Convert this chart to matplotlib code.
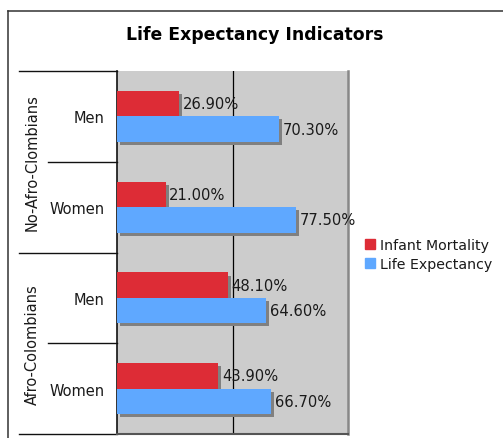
"""
Life expectancy indicators, grouped horizontal bars with a two-level category axis.
"""
import matplotlib.pyplot as plt
import matplotlib.patheffects as pe
from matplotlib.lines import Line2D
from matplotlib.patches import Patch
from matplotlib.transforms import blended_transform_factory

RED = "#DD2C36"
BLUE = "#5FA8FF"
PLOT_BG = "#CCCCCC"
SHADOW = "#808080"
TXT = "#1A1A1A"

groups = ["No-Afro-Clombians", "Afro-Colombians"]
subgroups = ["Men", "Women", "Men", "Women"]
infant_mortality = [26.9, 21.0, 48.1, 43.9]
life_expectancy = [70.3, 77.5, 64.6, 66.7]

W, H = 503, 439
fig = plt.figure(figsize=(W / 100, H / 100), dpi=100)
plt.rcParams["font.family"] = ["DejaVu Sans"]

# plot area in pixel terms: x 117..348, y 72..435
ax = fig.add_axes([117 / W, (H - 435) / H, (348 - 117) / W, (435 - 72) / H])
ax.set_facecolor(PLOT_BG)

n = len(subgroups)
centers = [i + 0.5 for i in range(n)]
h = 0.28
shadow = [pe.SimplePatchShadow(offset=(2.2, -2.2), shadow_rgbFace=SHADOW, alpha=1.0), pe.Normal()]

im_bars = ax.barh([c - h / 2 for c in centers], infant_mortality, height=h, color=RED, zorder=3)
le_bars = ax.barh([c + h / 2 for c in centers], life_expectancy, height=h, color=BLUE, zorder=3)
for b in list(im_bars) + list(le_bars):
    b.set_path_effects(shadow)

for bars, vals in ((im_bars, infant_mortality), (le_bars, life_expectancy)):
    for b, v in zip(bars, vals):
        ax.annotate(f"{v:.2f}%", (v, b.get_y() + b.get_height() / 2), xytext=(2.5, 0),
                    textcoords="offset points", va="center", ha="left", fontsize=10.6,
                    color=TXT, zorder=4)

ax.set_xlim(0, 100)
ax.set_ylim(n, 0)
ax.axvline(50, color="black", lw=0.9, zorder=2)
ax.set_xticks([])
ax.set_yticks(centers)
ax.set_yticklabels(subgroups, fontsize=10.5, color=TXT)
ax.tick_params(axis="y", length=0, pad=9)

ax.spines["top"].set_visible(False)
ax.spines["left"].set_color("#111111")
ax.spines["left"].set_linewidth(1.2)
ax.spines["right"].set_color("#888888")
ax.spines["right"].set_linewidth(1.8)
ax.spines["bottom"].set_color("#555555")
ax.spines["bottom"].set_linewidth(1.5)

# hierarchical category separators left of the plot
tr = blended_transform_factory(ax.transAxes, ax.transData)
x_group = (19 - 117) / 231
x_sub = (48 - 117) / 231
for y in [0, 2, 4]:
    ax.add_line(Line2D([x_group, 0], [y, y], transform=tr, color="#111111", lw=1.0, clip_on=False))
for y in [1, 3]:
    ax.add_line(Line2D([x_sub, 0], [y, y], transform=tr, color="#111111", lw=1.0, clip_on=False))
for i, g in enumerate(groups):
    ax.text((32 - 117) / 231, 2 * i + 1, g, transform=tr, rotation=90, ha="center", va="center",
            fontsize=10.5, color=TXT)

handles = [Patch(color=RED, label="Infant Mortality"), Patch(color=BLUE, label="Life Expectancy")]
leg = ax.legend(handles=handles, frameon=False, loc="upper left",
                bbox_to_anchor=(365 / W, 1 - 239 / H), bbox_transform=fig.transFigure,
                fontsize=10.2, handlelength=0.7, handleheight=0.7, handletextpad=0.35,
                borderpad=0, borderaxespad=0, labelspacing=0.35)
for t in leg.get_texts():
    t.set_color(TXT)

fig.text(255 / W, 1 - 35 / H, "Life Expectancy Indicators", ha="center", va="center",
         fontsize=12.4, fontweight="bold", color="black")

# outer frame (only the left and top edges fall inside the image)
fig.add_artist(Line2D([8 / W, 8 / W], [0, 1 - 12 / H], transform=fig.transFigure,
                      color="#333333", lw=1.1))
fig.add_artist(Line2D([8 / W, 1], [1 - 12 / H, 1 - 12 / H], transform=fig.transFigure,
                      color="#333333", lw=1.1))

fig.savefig("out.png", dpi=100)
